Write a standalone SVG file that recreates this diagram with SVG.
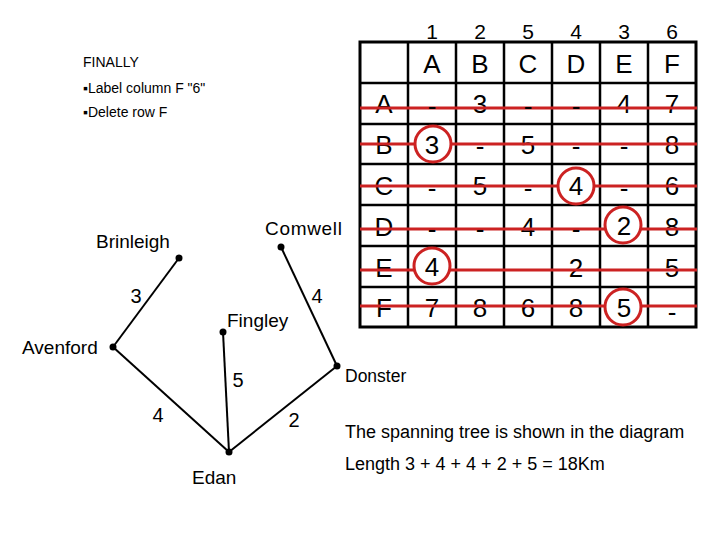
<svg xmlns="http://www.w3.org/2000/svg" width="720" height="540" viewBox="0 0 720 540">
<style>
.t{font-family:"Liberation Sans",Arial,sans-serif;fill:#000}
.cell{font-size:26px;text-anchor:middle}
.top{font-size:21px;text-anchor:middle}
.note{font-size:14px}
.lbl{font-size:19px}
.el{font-size:20px;text-anchor:middle}
.grid line{stroke:#000;stroke-width:2.5}
.red{stroke:#cc2222;stroke-width:3.2}
.circ{fill:#fff;stroke:#cc2222;stroke-width:3}
.edge{stroke:#000;stroke-width:2;fill:none}
.dot{fill:#000}
</style>
<rect width="720" height="540" fill="#fff"/>
<!-- notes -->
<g id="notes" class="t note">
<text x="83" y="67">FINALLY</text>
<text x="83" y="93">▪Label column F "6"</text>
<text x="83" y="117">▪Delete row F</text>
</g>
<!-- table -->
<g id="table">
<g class="grid">
<line x1="408" y1="42" x2="408" y2="327"/>
<line x1="456" y1="42" x2="456" y2="327"/>
<line x1="504" y1="42" x2="504" y2="327"/>
<line x1="552" y1="42" x2="552" y2="327"/>
<line x1="600" y1="42" x2="600" y2="327"/>
<line x1="648" y1="42" x2="648" y2="327"/>
<line x1="360" y1="83" x2="696" y2="83"/>
<line x1="360" y1="124" x2="696" y2="124"/>
<line x1="360" y1="164" x2="696" y2="164"/>
<line x1="360" y1="205" x2="696" y2="205"/>
<line x1="360" y1="246" x2="696" y2="246"/>
<line x1="360" y1="287" x2="696" y2="287"/>
</g>
<rect x="360" y="42" width="336" height="285" fill="none" stroke="#000" stroke-width="3"/>
<g class="t top">
<text x="432" y="39">1</text><text x="480" y="39">2</text><text x="528" y="39">5</text><text x="576" y="39">4</text><text x="624" y="39">3</text><text x="672" y="39">6</text>
</g>
<g class="t cell">
<text x="432" y="73">A</text><text x="480" y="73">B</text><text x="528" y="73">C</text><text x="576" y="73">D</text><text x="624" y="73">E</text><text x="672" y="73">F</text>
<text x="384" y="113">A</text><text x="480" y="113">3</text><text x="624" y="113">4</text><text x="672" y="113">7</text>
<text x="384" y="154">B</text><text x="528" y="154">5</text><text x="672" y="154">8</text>
<text x="384" y="195">C</text><text x="480" y="195">5</text><text x="672" y="195">6</text>
<text x="384" y="236">D</text><text x="528" y="236">4</text><text x="672" y="236">8</text>
<text x="384" y="277">E</text><text x="576" y="277">2</text><text x="672" y="277">5</text>
<text x="384" y="317">F</text><text x="432" y="317">7</text><text x="480" y="317">8</text><text x="528" y="317">6</text><text x="576" y="317">8</text>
</g>
<g class="red">
<line x1="360" y1="108" x2="697" y2="108"/>
<line x1="360" y1="144" x2="697" y2="144"/>
<line x1="360" y1="186" x2="697" y2="186"/>
<line x1="360" y1="229" x2="697" y2="229"/>
<line x1="360" y1="270" x2="697" y2="270"/>
<line x1="360" y1="306" x2="697" y2="306"/>
</g>
<g class="t cell">
<text x="432" y="115">-</text><text x="528" y="115">-</text><text x="576" y="115">-</text>
<text x="480" y="155">-</text><text x="576" y="155">-</text><text x="624" y="155">-</text>
<text x="432" y="197">-</text><text x="528" y="197">-</text><text x="624" y="197">-</text>
<text x="432" y="238">-</text><text x="480" y="238">-</text><text x="576" y="238">-</text>
<text x="672" y="321">-</text>
</g>
<g>
<circle class="circ" cx="433" cy="144" r="18"/>
<circle class="circ" cx="576" cy="186" r="18"/>
<circle class="circ" cx="623" cy="225" r="18"/>
<circle class="circ" cx="432" cy="266" r="18"/>
<circle class="circ" cx="623" cy="307" r="18"/>
</g>
<g class="t cell">
<text x="432" y="154">3</text>
<text x="576" y="195">4</text>
<text x="624" y="235">2</text>
<text x="432" y="276">4</text>
<text x="624" y="317">5</text>
</g>
</g>
<!-- connectors -->
<g id="connectors">
<line class="edge" x1="113" y1="347" x2="179" y2="258"/>
<line class="edge" x1="113" y1="347" x2="229" y2="452"/>
<line class="edge" x1="223" y1="332" x2="229" y2="452"/>
<line class="edge" x1="229" y1="452" x2="337" y2="366"/>
<line class="edge" x1="337" y1="366" x2="281" y2="247"/>
<g class="t el">
<text x="136" y="303">3</text>
<text x="317" y="303">4</text>
<text x="238" y="387">5</text>
<text x="158" y="422">4</text>
<text x="294" y="427">2</text>
</g>
</g>
<!-- nodes -->
<g id="node-avenford"><circle class="dot" cx="113" cy="347" r="3.5"/><text class="t lbl" x="22" y="354">Avenford</text></g>
<g id="node-brinleigh"><circle class="dot" cx="179" cy="258" r="3.5"/><text class="t lbl" x="96" y="248">Brinleigh</text></g>
<g id="node-comwell"><circle class="dot" cx="281" cy="247" r="3.5"/><text class="t lbl" x="265" y="235" textLength="77">Comwell</text></g>
<g id="node-fingley"><circle class="dot" cx="223" cy="332" r="3.5"/><text class="t lbl" x="227" y="327">Fingley</text></g>
<g id="node-donster"><circle class="dot" cx="337" cy="366" r="3.5"/><text class="t lbl" x="345" y="382" style="font-size:17.5px">Donster</text></g>
<g id="node-edan"><circle class="dot" cx="229" cy="452" r="3.5"/><text class="t lbl" x="192" y="484">Edan</text></g>
<!-- caption -->
<g id="caption" class="t" style="font-size:18px">
<text x="345" y="438">The spanning tree is shown in the diagram</text>
<text x="345" y="470">Length 3 + 4 + 4 + 2 + 5 = 18Km</text>
</g>
</svg>
